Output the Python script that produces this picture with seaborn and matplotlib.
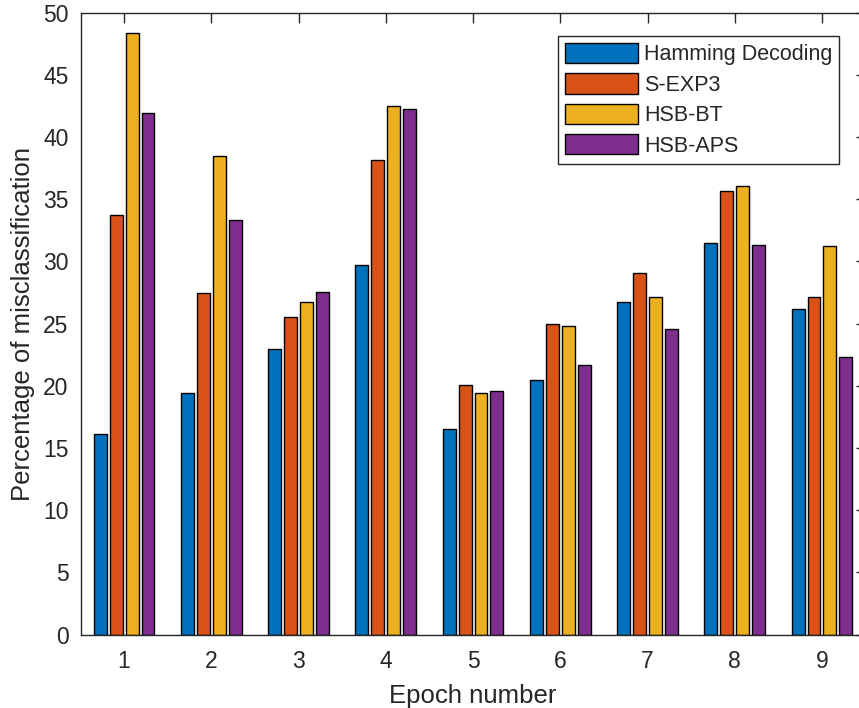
import pandas as pd
import matplotlib
matplotlib.use("Agg")
import matplotlib.pyplot as plt
import seaborn as sns

epochs = ['1', '2', '3', '4', '5', '6', '7', '8', '9']
methods = ['Hamming Decoding', 'S-EXP3', 'HSB-BT', 'HSB-APS']

hamming = [16.1, 19.45, 22.95, 29.7, 16.55, 20.45, 26.75, 31.45, 26.15]
s_exp3 = [33.7, 27.45, 25.5, 38.15, 20.05, 24.95, 29.1, 35.7, 27.15]
hsb_bt = [48.4, 38.45, 26.75, 42.5, 19.45, 24.8, 27.15, 36.1, 31.2]
hsb_aps = [41.95, 33.3, 27.55, 42.25, 19.6, 21.7, 24.6, 31.35, 22.3]

colors = ['#0072BD', '#D95319', '#EDB120', '#7E2F8E']

rows = []
for name, vals in zip(methods, [hamming, s_exp3, hsb_bt, hsb_aps]):
    for ep, v in zip(epochs, vals):
        rows.append({'epoch': ep, 'method': name, 'value': v})
df = pd.DataFrame(rows)

sns.set_style('white')
plt.rcParams['font.family'] = ['Liberation Sans', 'DejaVu Sans']
fs_tick = 16.5
fs_label = 18.5
fs_leg = 15.5

fig = plt.figure(figsize=(8.59, 7.08), dpi=100)
ax = fig.add_axes([80.5 / 859, 1 - 634.5 / 708, (865.6 - 80.5) / 859, (634.5 - 12.7) / 708])

sns.barplot(data=df, x='epoch', y='value', hue='method', order=epochs,
            hue_order=methods, palette=colors, width=0.73, gap=0.19,
            edgecolor='black', linewidth=1.0, saturation=1, errorbar=None,
            ax=ax)

ax.set_xlim(-0.5, 8.5)
ax.set_ylim(0, 50)
ax.set_yticks(range(0, 51, 5))
ax.set_xlabel('Epoch number', fontsize=fs_label, color='#262626', labelpad=8)
ax.set_ylabel('Percentage of misclassification', fontsize=fs_label,
              color='#262626', labelpad=6)
ax.tick_params(axis='both', direction='in', length=7, width=1,
               labelsize=fs_tick, colors='#262626', top=True, right=True)
ax.tick_params(axis='x', pad=11)
ax.tick_params(axis='y', pad=8.5)
for s in ax.spines.values():
    s.set_color('#262626')
    s.set_linewidth(1.0)

handles, labels = ax.get_legend_handles_labels()
ax.get_legend().remove()
for h in handles:
    h.set_edgecolor('black')
    h.set_linewidth(1.0)
leg = ax.legend(handles, labels, loc='upper left',
                bbox_to_anchor=(558 / 859, 1 - 36 / 708),
                bbox_transform=fig.transFigure, fontsize=fs_leg,
                frameon=True, fancybox=False, framealpha=1,
                edgecolor='#262626', borderpad=0.32, handlelength=3.4,
                handleheight=1.07, handletextpad=0.27, labelspacing=0.37,
                borderaxespad=0)
leg.get_frame().set_linewidth(1.0)

fig.savefig('out.png', dpi=100)
